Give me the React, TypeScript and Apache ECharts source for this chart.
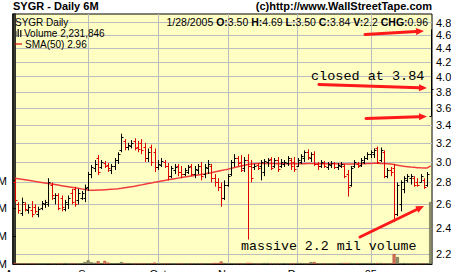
import React, { useEffect, useRef } from 'react';
import * as echarts from 'echarts';

// ---- Data ----
const symbol = 'SYGR';
const monthLabels = ['Aug', 'Sep', 'Oct', 'Nov', 'Dec', '05'];
const monthStartIdx = [0, 22, 43, 64, 85, 107];
const holidays = ['2004-09-06', '2004-11-25', '2004-12-24', '2005-01-17'];
const priceTicks = [2.2, 2.4, 2.6, 2.8, 3.0, 3.2, 3.4, 3.6, 3.8, 4.0, 4.2, 4.4, 4.6, 4.8];
const volumeTicks = [0, 1000000, 2000000, 3000000];

const opens = [
  2.80, 2.60, 2.53, 2.60, 2.55, 2.55, 2.58, 2.52, 2.57, 2.60, 2.60, 2.78, 2.66, 2.68, 2.66, 2.56, 2.60, 2.70, 2.74, 2.64, 2.66, 2.66,
  2.76, 2.88, 2.94, 3.04, 2.95, 2.99, 2.97, 2.92, 2.96, 3.02, 3.12, 3.22, 3.15, 3.17, 3.22, 3.15, 3.20, 3.15, 3.04, 3.15, 3.10,
  2.95, 2.97, 3.00, 2.96, 2.86, 2.92, 2.96, 2.90, 2.88, 2.90, 2.96, 2.88, 2.92, 2.96, 2.88, 2.94, 2.96, 2.84, 2.80, 2.76, 2.66,
  2.78, 2.88, 3.00, 3.04, 3.00, 2.94, 3.02, 2.96, 2.95, 2.97, 2.96, 2.90, 3.00, 3.03, 2.96, 3.02, 2.96, 2.98, 2.99, 3.02, 3.00,
  2.96, 3.00, 3.04, 3.10, 3.04, 3.08, 2.98, 2.96, 2.99, 2.95, 2.97, 2.99, 2.95, 2.96, 2.96, 2.88, 2.78, 2.96, 2.98, 2.97, 3.00, 3.04,
  3.08, 3.08, 3.14, 3.02, 3.10, 2.86, 2.92, 2.94, 2.52, 2.60, 2.74, 2.82, 2.84, 2.84, 2.80, 2.80, 2.82, 2.78, 3.50,
];
const highs = [
  2.84, 2.62, 2.66, 2.62, 2.60, 2.63, 2.60, 2.58, 2.63, 2.64, 2.84, 2.80, 2.70, 2.70, 2.68, 2.64, 2.68, 2.74, 2.76, 2.74, 2.72, 2.78,
  2.90, 2.97, 3.02, 3.07, 3.02, 3.01, 2.99, 2.98, 3.04, 3.10, 3.30, 3.24, 3.20, 3.23, 3.25, 3.22, 3.24, 3.20, 3.14, 3.18, 3.14,
  3.02, 3.04, 3.02, 2.99, 2.96, 2.98, 2.98, 2.96, 2.94, 2.97, 2.98, 2.96, 2.98, 3.00, 2.98, 3.02, 2.98, 2.88, 2.84, 2.80, 2.82,
  2.88, 3.02, 3.08, 3.06, 3.07, 3.05, 3.08, 3.02, 2.98, 2.99, 3.02, 3.03, 3.04, 3.05, 3.04, 3.05, 3.03, 3.02, 3.06, 3.04, 3.05,
  3.04, 3.08, 3.12, 3.13, 3.10, 3.11, 3.00, 3.02, 3.01, 3.00, 3.01, 3.00, 2.99, 3.00, 2.98, 2.92, 2.96, 3.02, 3.00, 3.04, 3.06, 3.10,
  3.12, 3.14, 3.16, 3.15, 3.12, 2.94, 2.95, 2.98, 2.80, 2.82, 2.86, 2.88, 2.88, 2.86, 2.84, 2.88, 2.84, 2.90, 4.69,
];
const lows = [
  2.62, 2.52, 2.50, 2.54, 2.52, 2.49, 2.52, 2.49, 2.55, 2.57, 2.58, 2.64, 2.60, 2.55, 2.54, 2.54, 2.56, 2.60, 2.58, 2.60, 2.64, 2.62,
  2.72, 2.84, 2.90, 2.87, 2.93, 2.94, 2.90, 2.88, 2.92, 2.98, 3.10, 3.12, 3.12, 3.14, 3.12, 3.10, 3.08, 3.00, 3.00, 2.96, 2.90,
  2.92, 2.95, 2.94, 2.82, 2.84, 2.88, 2.86, 2.84, 2.86, 2.88, 2.86, 2.84, 2.88, 2.82, 2.84, 2.88, 2.80, 2.76, 2.72, 2.58, 2.64,
  2.76, 2.86, 2.95, 2.96, 2.90, 2.90, 2.31, 2.80, 2.92, 2.92, 2.82, 2.86, 2.95, 2.92, 2.94, 2.90, 2.94, 2.95, 2.96, 2.92, 2.90,
  2.95, 2.98, 3.00, 3.02, 3.00, 2.96, 2.92, 2.94, 2.94, 2.92, 2.94, 2.93, 2.92, 2.94, 2.84, 2.67, 2.76, 2.94, 2.94, 2.95, 2.98, 3.02,
  3.04, 3.04, 2.98, 3.00, 2.84, 2.84, 2.86, 2.45, 2.50, 2.54, 2.70, 2.80, 2.78, 2.76, 2.76, 2.80, 2.74, 2.76, 3.50,
];
const closes = [
  2.64, 2.55, 2.62, 2.56, 2.58, 2.52, 2.54, 2.56, 2.61, 2.62, 2.80, 2.68, 2.68, 2.57, 2.58, 2.62, 2.66, 2.62, 2.60, 2.70, 2.70, 2.75,
  2.88, 2.95, 2.98, 2.90, 3.00, 2.96, 2.94, 2.96, 3.02, 3.08, 3.26, 3.16, 3.18, 3.20, 3.14, 3.13, 3.12, 3.04, 3.10, 3.00, 2.95,
  2.98, 3.01, 2.96, 2.86, 2.94, 2.95, 2.90, 2.88, 2.92, 2.95, 2.88, 2.93, 2.96, 2.86, 2.95, 2.98, 2.84, 2.80, 2.76, 2.66, 2.78,
  2.86, 3.00, 3.04, 2.99, 2.92, 3.02, 2.96, 2.84, 2.96, 2.94, 3.00, 3.01, 3.02, 2.94, 3.02, 2.93, 3.00, 3.00, 3.04, 2.96, 2.93,
  3.02, 3.06, 3.10, 3.05, 3.08, 2.98, 2.96, 3.00, 2.96, 2.98, 2.99, 2.95, 2.97, 2.98, 2.86, 2.76, 2.94, 3.00, 2.96, 3.02, 3.04, 3.08,
  3.10, 3.12, 3.00, 3.12, 2.86, 2.92, 2.90, 2.52, 2.78, 2.80, 2.84, 2.86, 2.86, 2.78, 2.78, 2.86, 2.76, 2.88, 3.84,
];
const volumes = [
  40000, 15000, 20000, 12000, 15000, 18000, 12000, 10000, 14000, 12000,
  25000, 18000, 12000, 15000, 14000, 35000, 12000, 15000, 18000, 14000,
  20000, 70000, 130000, 60000, 40000, 100000, 30000, 110000, 50000, 20000,
  25000, 30000, 70000, 35000, 35000, 15000, 12000, 14000, 15000, 18000,
  15000, 20000, 50000, 15000, 12000, 10000, 14000, 12000, 10000, 12000,
  10000, 12000, 10000, 12000, 14000, 12000, 10000, 12000, 15000, 18000,
  35000, 35000, 90000, 35000, 20000, 25000, 18000, 15000, 20000, 18000,
  45000, 35000, 15000, 12000, 14000, 35000, 35000, 15000, 12000, 14000,
  12000, 30000, 14000, 12000, 15000, 35000, 35000, 15000, 18000, 70000,
  70000, 15000, 12000, 10000, 12000, 14000, 12000, 15000, 35000, 35000,
  35000, 35000, 15000, 30000, 30000, 30000, 30000, 35000, 20000, 35000,
  35000, 20000, 18000, 15000, 360000, 250000, 20000, 35000, 18000, 15000,
  14000, 12000, 15000, 14000, 18000, 2231846,
];
const sma50 = [
  2.840, 2.835, 2.830, 2.825, 2.820, 2.815, 2.810, 2.805, 2.800, 2.795, 2.790, 2.785, 2.780, 2.775, 2.770, 2.765, 2.760, 2.755, 2.750, 2.745, 2.740, 2.735,
  2.730, 2.728, 2.728, 2.729, 2.730, 2.732, 2.734, 2.736, 2.738, 2.741,
  2.745, 2.750, 2.755, 2.760, 2.765, 2.771, 2.777, 2.783, 2.789, 2.795, 2.801, 2.807, 2.813, 2.819, 2.826,
  2.831, 2.836, 2.841, 2.846, 2.851, 2.856, 2.861, 2.866, 2.871, 2.876, 2.881, 2.887,
  2.893, 2.900, 2.907, 2.914, 2.921, 2.928, 2.936, 2.944, 2.952, 2.960, 2.968, 2.975,
  2.979, 2.982, 2.984, 2.985, 2.985, 2.985, 2.984, 2.984, 2.983, 2.983,
  2.983, 2.983, 2.982, 2.982, 2.982, 2.982, 2.983, 2.984, 2.984, 2.984, 2.983, 2.983, 2.982, 2.982, 2.981, 2.981, 2.981, 2.980, 2.980, 2.980,
  2.980, 2.980, 2.981, 2.982, 2.983, 2.984, 2.985, 2.986, 2.986, 2.985, 2.984, 2.982, 2.979,
  2.974, 2.968, 2.962, 2.957, 2.953, 2.949, 2.946, 2.943, 2.941, 2.940, 2.940, 2.960,
];

function tradingDays(): string[] {
  const out: string[] = [];
  const d = new Date(Date.UTC(2004, 7, 2));
  const end = new Date(Date.UTC(2005, 0, 28));
  while (d <= end) {
    const s = d.toISOString().slice(0, 10);
    const wd = d.getUTCDay();
    if (wd !== 0 && wd !== 6 && holidays.indexOf(s) < 0) out.push(s);
    d.setUTCDate(d.getUTCDate() + 1);
  }
  return out;
}
const dates = tradingDays();

const RED = '#E00000';
const BLACK = '#000000';
const FONT = 'Arial, "Liberation Sans", sans-serif';
const MONO = '"Courier New", "Liberation Mono", monospace';

const LN_MIN = Math.log(2.127);
const LN_MAX = Math.log(4.94);

function fmtInt(n: number) {
  return String(n).replace(/\B(?=(\d{3})+(?!\d))/g, ',');
}

function arrow(x1: number, y1: number, x2: number, y2: number) {
  const ang = Math.atan2(y2 - y1, x2 - x1);
  const L = 8, W = 3.5;
  const bx = x2 - L * Math.cos(ang), by = y2 - L * Math.sin(ang);
  const nx = -Math.sin(ang), ny = Math.cos(ang);
  return [
    { type: 'line', shape: { x1, y1, x2: bx, y2: by }, style: { stroke: '#FF1A1A', lineWidth: 3, lineCap: 'round' }, z: 100 },
    {
      type: 'polygon',
      shape: { points: [[x2, y2], [bx + nx * W, by + ny * W], [bx - nx * W, by - ny * W]] },
      style: { fill: '#FF1A1A' }, z: 100,
    },
  ];
}

export default function App() {
  const ref = useRef<HTMLDivElement>(null);
  useEffect(() => {
    if (!ref.current) return;
    const chart = echarts.init(ref.current, null, { renderer: 'svg' });
    const n = dates.length;
    const ohlc = dates.map((_, i) => [i, Math.log(opens[i]), Math.log(closes[i]), Math.log(lows[i]), Math.log(highs[i])]);
    const last = n - 1;
    const chg = closes[last] - closes[last - 1];

    const option: any = {
      animation: false,
      grid: {
        left: 13, right: 19, top: 14, bottom: 8,
        outerBoundsMode: 'none', containLabel: false,
        show: true, backgroundColor: '#FFFFC4', borderColor: '#000', borderWidth: 1,
      },
      xAxis: {
        type: 'value', min: -0.6, max: n - 0.6,
        axisLine: { show: true, onZero: false, lineStyle: { color: '#000', width: 1 } },
        axisTick: { show: false, customValues: monthStartIdx },
        axisLabel: {
          customValues: monthStartIdx, margin: 4, fontSize: 11, fontFamily: FONT, color: '#000',
          formatter: (v: number) => monthLabels[monthStartIdx.indexOf(v)] || '',
        },
        splitLine: { show: true, lineStyle: { color: '#BDBDBD', width: 1 } },
      },
      yAxis: [
        {
          type: 'value', position: 'right', min: LN_MIN, max: LN_MAX,
          axisLine: { show: true, lineStyle: { color: '#000', width: 1.5 } },
          axisTick: { show: false, customValues: priceTicks.map((p) => Math.log(p)) },
          axisLabel: {
            customValues: priceTicks.map((p) => Math.log(p)), margin: 4, fontSize: 11, fontFamily: FONT, color: '#000',
            formatter: (v: number) => Math.exp(v).toFixed(1),
          },
          splitLine: { show: true, lineStyle: { color: '#BDBDBD', width: 1 } },
        },
        {
          type: 'value', position: 'left', min: 0, max: 9000000,
          axisLine: { show: true, lineStyle: { color: '#000', width: 1.5 } },
          axisTick: { show: true, inside: true, length: 3, customValues: volumeTicks, lineStyle: { color: '#000' } },
          axisLabel: {
            customValues: volumeTicks, margin: 6, fontSize: 11, fontFamily: FONT, color: '#000',
            formatter: (v: number) => (v / 1000000).toFixed(0) + 'M',
          },
          splitLine: { show: false },
        },
      ],
      series: [
        {
          type: 'bar', xAxisIndex: 0, yAxisIndex: 1, barWidth: 3, z: 1,
          data: volumes.map((v, i) => ({
            value: [i, v],
            itemStyle: {
              color: closes[i] < opens[i] ? '#D8705C' : '#8C8C6A',
              borderColor: closes[i] < opens[i] ? '#A04030' : '#5A5A40', borderWidth: 0.5,
            },
          })),
        },
        {
          type: 'line', xAxisIndex: 0, yAxisIndex: 0, z: 2,
          data: sma50.map((v, i) => [i, Math.log(v)]),
          showSymbol: false, symbol: 'none',
          lineStyle: { color: '#F03C3C', width: 1.5 },
        },
        {
          type: 'custom', xAxisIndex: 0, yAxisIndex: 0, z: 3,
          dimensions: ['i', 'open', 'close', 'low', 'high'],
          encode: { x: 0, y: [1, 2, 3, 4] },
          data: ohlc,
          renderItem: (params: any, api: any) => {
            const i = api.value(0);
            const o = api.value(1), c = api.value(2), l = api.value(3), h = api.value(4);
            const po = api.coord([i, o]);
            const pc = api.coord([i, c]);
            const pl = api.coord([i, l]);
            const ph = api.coord([i, h]);
            const color = c < o ? RED : BLACK;
            const x = Math.round(po[0]) + 0.5;
            const yo = Math.round(po[1]) + 0.5;
            const yc = Math.round(pc[1]) + 0.5;
            return {
              type: 'group',
              children: [
                { type: 'line', shape: { x1: x, y1: ph[1], x2: x, y2: pl[1] }, style: { stroke: color, lineWidth: 1 } },
                { type: 'line', shape: { x1: x - 2, y1: yo, x2: x, y2: yo }, style: { stroke: color, lineWidth: 1 } },
                { type: 'line', shape: { x1: x, y1: yc, x2: x + 2, y2: yc }, style: { stroke: color, lineWidth: 1 } },
              ],
            };
          },
        },
      ],
      graphic: [
        { type: 'text', left: 13, top: 0, style: { text: `${symbol} - Daily 6M`, font: `bold 11px ${FONT}`, fill: '#000' } },
        { type: 'text', right: 19, top: 0, style: { text: '(c)http://www.WallStreetTape.com', font: `bold 11px ${FONT}`, fill: '#000' } },
        { type: 'text', x: 15, y: 22, style: { text: `${symbol} Daily`, font: `10px ${FONT}`, fill: '#000', textVerticalAlign: 'middle' }, z: 50 },
        {
          type: 'text', x: 428, y: 22, z: 50,
          style: {
            text: `1/28/2005 {b|O:}${opens[last].toFixed(2)} {b|H:}${highs[last].toFixed(2)} {b|L:}${lows[last].toFixed(2)} {b|C:}${closes[last].toFixed(2)} {b|V:}${(volumes[last] / 1e6).toFixed(1)} {b|CHG:}${chg.toFixed(2)}`,
            font: `10.5px ${FONT}`, fill: '#000', textAlign: 'right', textVerticalAlign: 'middle',
            rich: { b: { fontWeight: 'bold', fontSize: 10.5, fontFamily: FONT } },
          },
        },
        { type: 'rect', shape: { x: 15, y: 31, width: 1.5, height: 6 }, style: { fill: '#333' }, z: 50 },
        { type: 'rect', shape: { x: 17.5, y: 29, width: 1.5, height: 8 }, style: { fill: '#333' }, z: 50 },
        { type: 'rect', shape: { x: 20, y: 30, width: 1.5, height: 7 }, style: { fill: '#333' }, z: 50 },
        { type: 'text', x: 24, y: 33.5, style: { text: `Volume ${fmtInt(volumes[last])}`, font: `10px ${FONT}`, fill: '#000', textVerticalAlign: 'middle' }, z: 50 },
        { type: 'line', shape: { x1: 15, y1: 44, x2: 22, y2: 44 }, style: { stroke: RED, lineWidth: 1.2 }, z: 50 },
        { type: 'text', x: 25, y: 44, style: { text: `SMA(50) ${sma50[last].toFixed(2)}`, font: `10px ${FONT}`, fill: '#000', textVerticalAlign: 'middle' }, z: 50 },
        { type: 'text', x: 311, y: 76, style: { text: `closed at ${closes[last].toFixed(2)}`, font: `13.5px ${MONO}`, fill: '#000', textVerticalAlign: 'middle' }, z: 60 },
        { type: 'text', x: 241, y: 246, style: { text: 'massive 2.2 mil volume', font: `13.3px ${MONO}`, fill: '#000', textVerticalAlign: 'middle' }, z: 60 },
        ...arrow(365, 34.5, 424, 31),
        ...arrow(319, 84.5, 427, 88),
        ...arrow(366, 118.5, 427, 116.5),
        ...arrow(360, 237, 424, 206),
      ],
    };
    chart.setOption(option);
    return () => chart.dispose();
  }, []);
  return <div ref={ref} style={{ position: 'fixed', left: 0, top: 0, width: 451, height: 272, background: '#fff' }} />;
}
